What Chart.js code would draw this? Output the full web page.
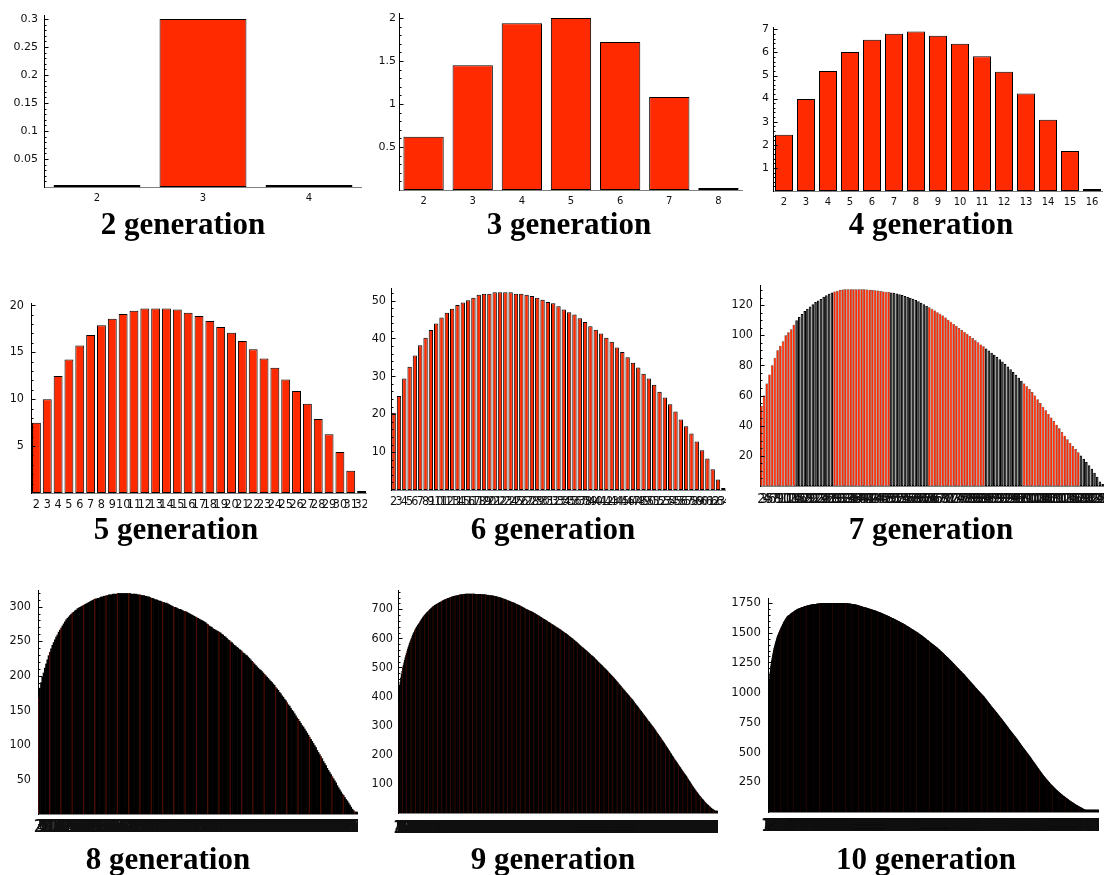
<!DOCTYPE html>
<html><head><meta charset="utf-8"><title>generations</title>
<script src="https://cdn.jsdelivr.net/npm/chart.js@4.4.1/dist/chart.umd.min.js"></script>
<style>
html,body{margin:0;padding:0;background:#fff}
body{position:relative;width:1107px;height:875px;overflow:hidden}
canvas{position:absolute}
.title{position:absolute;font-family:"Liberation Serif","Times New Roman",serif;font-weight:bold;font-size:31px;line-height:32px;white-space:nowrap;transform:translateX(-50%);color:#000}
</style></head><body>
<script>
// ---------- data ----------
const titles = ['2 generation','3 generation','4 generation','5 generation','6 generation','7 generation','8 generation','9 generation','10 generation'];

const gen2Values = [0, 0.3, 0];
const gen3Values = [0.62, 1.45, 1.94, 2.0, 1.72, 1.08, 0];
const gen4Values = [2.43, 3.98, 5.2, 6.02, 6.55, 6.81, 6.9, 6.72, 6.38, 5.83, 5.16, 4.22, 3.09, 1.73, 0];
const gen5Values = [7.48, 9.99, 12.46, 14.23, 15.71, 16.84, 17.86, 18.57, 19.06, 19.41, 19.66, 19.66, 19.66, 19.56, 19.2, 18.85, 18.32, 17.68, 17.08, 16.2, 15.32, 14.33, 13.34, 12.1, 10.87, 9.5, 7.87, 6.25, 4.38, 2.37, 0];
const gen6Values = [20.4, 24.8, 29.4, 32.5, 35.5, 38.2, 40.2, 42.2, 43.9, 45.5, 46.8, 47.8, 48.8, 49.5, 50.1, 50.7, 51.5, 51.8, 51.8, 52.2, 52.2, 52.2, 52.2, 51.8, 51.8, 51.5, 51.2, 50.7, 50.2, 49.6, 49.3, 48.5, 47.6, 46.9, 46.3, 45.3, 44.3, 43.2, 42.3, 41.3, 40.2, 39.1, 37.6, 36.4, 35.0, 33.6, 32.3, 30.7, 29.4, 27.8, 25.9, 24.4, 22.6, 20.7, 18.6, 16.8, 14.9, 12.8, 10.5, 8.3, 5.5, 2.8, 0];
const gen7Values = [
53,60,68,74,80,85,90,93,96,100,102,104,107,110,
112,114,116,117.5,119,120.5,122,123,124,125.5,126.5,127.5,128.3,129,129.5,130,
130.3,130.5,130.5,130.5,130.5,130.5,130.5,130.5,130.5,
130.3,130.1,130,129.8,129.6,129.3,129,128.8,128.6,128.4,
128.2,127.7,127.2,126.6,126,125.4,124.8,124.1,123.3,122.5,
121.6,120.6,119.6,118.5,117.5,116.4,115.3,114.2,113,111.7,
110.3,108.9,107.5,106.2,104.8,103.5,102.2,100.9,99.5,98.1,
96.7,95.3,93.9,92.6,91.2,89.8,88.4,87,85.5,84.1,
82.5,80.9,79.2,77.5,75.6,73.7,71.8,69.8,68,66.2,
64.4,62.3,60,57.6,55,52.6,50.2,47.8,45.5,43.1,
40.7,38.3,35.8,33.4,31,28.6,26.5,24.5,22.4,20.2,
18,15.9,13.8,11.4,8.8,6.2,3,0];
const gen8Values = [
168,182,190,198,204,211,217,223,229,234,239,244,248,252,256,259,263,266,269,272,275,278,281,283,
285,287,289,291,292, 294,295,297,298,299, 300,301,302,303,304, 305,306,307,308,309,310,
311,311,312,312,313, 314,314,315,315,316, 316,317,317,317,318,318,
318,318,319,319,319,319,319,319,319,319, 319,319,319,318,318,318,
318,318,317,317,317, 316,316,316,315,315, 314,314,313,312,312,311,
310,310,309,308,308, 307,306,306,305,305, 304,303,302,301,300, 299,299,298,297,296,296,
295,294,293,293,292, 291,290,289,288,287, 286,285,284,283,282,281,
280,279,278,277,275, 274,272,271,270,268, 267,266,265,264,263,262,
260,259,257,256,254, 252,251,249,248,246, 244,243,241,240,238,237,
235,233,232,230,229, 227,225,223,221,219, 217,215,213,211,209, 208,206,204,202,200,198,
196,194,192,190,188, 186,183,181,179,176, 174,171,169,166,164,161,
158,156,153,150,148, 145,142,139,137,134, 131,128,126,123,120,117,
114,111,108,105,102, 99,96,92,89,86, 83,80,76,73,70, 66,63,60,57,54,51,
48,45,41,38,35, 32,29,27,24,21, 19,16,13,10,7, 5,3,1,0];
const gen9Values = [
378,410,435,450,464,476,487,497,506,516,525,533,541,549,556,563,570,577,583,
589,595,600,606,611,616,621,626,630,634,
638,641,645,648,651,654,658,661,665,668,671,
674,677,679,682,684,687,689,691,693,696,698,700,702,704,706,708,
710,711,713,714,715,717,718,719,720,722,723,
724,725,726,728,729,730,731,732,733,734,
735,736,737,737,738,739,740,741,742,742,743,
744,744,745,745,746,746,747,747,748,748,749,
749,749,750,750,750,751,751,751,752,752,
752,752,752,752,752,752,752,752,752,752,752,
752,752,752,751,751,751,751,751,751,751,751,
751,751,750,750,750,750,750,749,749,749,
749,748,748,748,747,747,747,747,746,746,746,
745,745,744,744,743,743,742,742,741,741,740,
739,738,738,737,736,735,735,734,733,732,
731,730,729,729,728,727,726,725,724,724,723,
722,721,720,719,718,717,716,715,714,713,712,
711,710,708,707,706,705,704,703,701,700,
699,698,697,696,695,694,693,692,691,690,689,
688,686,685,684,682,681,680,678,677,676,675,
673,672,670,669,668,666,665,664,662,661,
660,658,657,655,654,653,651,650,648,647,646,
644,643,642,640,639,637,636,635,633,632,631,
629,628,626,624,623,621,620,618,617,616,
614,612,611,609,607,605,604,602,600,599,597,
595,593,591,589,588,586,584,582,580,578,
576,574,572,570,568,567,565,563,561,559,558,
556,554,552,550,548,546,544,542,540,539,537,
535,533,530,528,526,524,521,519,517,515,
513,511,509,507,505,502,500,498,496,494,492,
490,487,485,483,480,478,476,473,471,469,467,
464,462,459,457,454,452,449,447,444,441,
439,436,434,431,429,426,424,421,419,416,414,
411,409,406,404,401,398,396,393,391,389,386,
383,380,377,374,371,369,366,363,360,357,
354,351,349,346,343,340,337,335,332,329,326,
323,320,317,315,312,309,306,303,300,298,295,
292,289,286,283,279,276,273,270,267,264,
261,258,255,251,248,245,242,239,235,232,229,
226,222,219,215,212,209,205,202,198,195,
192,189,185,182,179,176,173,169,166,163,160,
157,154,150,147,144,141,138,135,132,129,126,
123,119,116,112,109,106,102,99,96,92,
89,86,83,80,77,74,71,68,65,62,59,
57,54,52,49,47,44,42,39,37,34,32,
30,28,26,24,22,20,18,16,14,13,
12,10,9,7,6,4,2,0];
const gen10Values = [
963,1005,1045,1080,1110,1140,1168,1195,1218,1235,1252,1268,1284,1298,1312,1326,1340,1354,1368,
1378,1388,1398,1408,1417,1427,1436,1446,1455,1465,
1471,1478,1484,1491,1497,1503,1510,1516,1522,1529,1535,
1541,1546,1552,1557,1563,1569,1574,1580,1585,1591,
1595,1599,1604,1608,1612,1616,1620,1625,1629,1633,
1635,1637,1639,1641,1643,1645,1647,1649,1651,1654,1656,1658,1660,1662,1664,1666,
1668,1670,1672,1673,1675,1677,1679,1681,1683,1685,1686,1688,1690,1692,1694,
1695,1696,1697,1698,1699,1700,1701,1702,1703,1704,1705,1706,1707,1708,1709,1710,1711,1712,1713,1715,1716,
1717,1717,1718,1719,1720,1720,1721,1722,1723,1723,1724,1725,1725,1726,1727,1727,1728,1729,1729,1730,
1730,1731,1731,1732,1732,1733,1733,1734,1734,1734,1735,1735,1736,1736,1737,1737,1737,1738,1738,1739,1739,
1739,1740,1740,1740,1741,1741,1741,1741,1742,1742,1742,1742,1743,1743,1743,1743,1744,1744,1744,1744,
1744,1744,1744,1744,1744,1744,1744,1744,1744,1744,1744,1744,1744,1744,1744,1744,
1745,1745,1745,1745,1745,1745,1745,1745,1745,1745,1745,1745,1745,1745,1745,1745,1745,1745,1745,1745,1745,1745,1745,1745,1745,1745,1745,1745,1745,1745,
1744,1744,1744,1744,1744,1744,1744,1744,1744,1744,1744,1744,1744,1744,1744,1744,
1744,1744,1744,1743,1743,1743,1743,1742,1742,1742,1742,1741,1741,1741,1740,1740,1740,1740,1739,1739,1739,
1738,1738,1737,1737,1736,1736,1735,1735,1734,1734,1733,1733,1732,1732,1731,1731,1730,1729,1729,1728,
1727,1726,1726,1725,1724,1723,1722,1721,1721,1720,1719,1718,1717,1716,1716,1715,1714,1713,1712,1712,1711,
1710,1709,1709,1708,1707,1706,1705,1704,1704,1703,1702,1701,1700,1699,1699,1698,1697,1696,1695,1695,1694,
1693,1692,1691,1690,1689,1688,1687,1686,1685,1684,1684,1683,1682,1681,1680,1679,1678,1677,1676,1675,
1674,1673,1672,1670,1669,1668,1667,1666,1665,1664,1663,1662,1661,1659,1658,1657,1656,1655,1654,1653,1652,
1651,1649,1648,1647,1646,1644,1643,1642,1641,1640,1638,1637,1636,1635,1633,1632,1631,1630,1628,1627,
1626,1624,1623,1622,1620,1619,1618,1616,1615,1614,1612,1611,1610,1608,1607,1606,1604,1603,1602,1600,1599,
1598,1596,1595,1593,1592,1590,1589,1587,1586,1585,1583,1582,1580,1579,1577,1576,1575,1573,1572,1570,1569,
1567,1565,1564,1562,1560,1559,1557,1555,1554,1552,1550,1548,1547,1545,1543,1542,1540,1538,1537,1535,
1533,1532,1530,1528,1526,1525,1523,1521,1520,1518,1516,1514,1513,1511,1509,1508,1506,1504,1502,1501,1499,
1497,1495,1493,1491,1489,1487,1485,1483,1481,1479,1478,1476,1474,1472,1470,1468,1466,1464,1462,1460,
1458,1456,1454,1451,1449,1447,1445,1443,1441,1438,1436,1434,1432,1430,1428,1426,1423,1421,1419,1417,1415,
1413,1411,1409,1406,1404,1402,1400,1398,1396,1393,1391,1389,1387,1385,1383,1381,1378,1376,1374,1372,1370,
1368,1365,1363,1360,1358,1355,1353,1350,1348,1345,1343,1340,1338,1335,1333,1330,1328,1325,1323,1320,
1317,1315,1312,1310,1307,1304,1302,1299,1296,1294,1291,1289,1286,1283,1281,1278,1275,1273,1270,1268,1265,
1262,1259,1256,1254,1251,1248,1245,1242,1239,1236,1234,1231,1228,1225,1222,1219,1216,1214,1211,1208,
1205,1202,1200,1197,1194,1191,1188,1186,1183,1180,1177,1175,1172,1169,1166,1164,1161,1158,1155,1153,1150,
1147,1144,1141,1138,1135,1131,1128,1125,1122,1119,1116,1113,1110,1107,1104,1100,1097,1094,1091,1088,
1085,1082,1079,1076,1073,1070,1067,1064,1061,1058,1055,1052,1048,1045,1042,1039,1036,1033,1030,1027,1024,
1021,1018,1015,1012,1009,1006,1003,1001,998,995,992,989,986,983,980,977,975,972,969,966,963,
960,956,953,949,946,942,939,935,932,928,925,921,918,914,911,907,904,900,897,893,
890,886,883,880,876,873,870,866,863,860,856,853,850,846,843,840,836,833,830,826,823,
820,816,813,809,806,802,799,795,792,788,785,781,778,775,771,768,764,761,757,754,
750,747,743,739,736,732,728,725,721,718,714,710,707,703,699,696,692,689,685,681,678,
675,671,668,664,661,657,654,651,647,644,640,637,633,630,627,623,620,616,613,609,606,
602,598,594,591,587,583,579,575,571,568,564,560,556,552,549,545,541,537,533,530,
526,523,519,516,512,509,505,501,498,494,491,487,484,480,476,473,469,466,462,459,455,
451,447,443,439,435,432,428,424,420,416,412,408,404,400,396,393,389,385,381,377,
373,369,366,362,358,355,351,347,344,340,336,332,329,325,321,318,314,310,306,303,299,
296,293,289,286,283,280,277,274,270,267,264,261,258,254,251,248,245,242,238,235,232,
229,227,224,221,218,216,213,210,208,205,202,200,197,194,191,189,186,183,181,178,
176,173,171,169,166,164,162,160,157,155,153,150,148,146,143,141,139,137,134,132,130,
128,126,124,122,120,118,116,114,112,110,108,106,104,102,100,98,96,94,92,90,88,
86,84,83,81,79,77,76,74,72,70,69,67,65,63,62,60,58,56,55,53,
52,50,49,47,46,44,43,41,40,38,37,35,34,32,31,29,28,26,25,23,22,
21,20,19,18,17,16,15,14,13,12,11,10,9,8,7,6,5,4,3,3,
2,2,2,2,1,1,1,1,1,1,1,1,1,1,1,0,0,0,0,0,0,
0,0,0,0,0];

const seriesValues = [gen2Values, gen3Values, gen4Values, gen5Values, gen6Values, gen7Values, gen8Values, gen9Values, gen10Values];
// category labels: 2 .. 2^n
const categoryLabels = seriesValues.map(vals => vals.map((_, i) => String(i + 2)));

// ---------- layout / style (not data) ----------
const RED = '#ff2a00';
const SANS = '"DejaVu Sans", Verdana, sans-serif';
const NARROW = '"Liberation Sans Narrow", "DejaVu Sans Condensed", "Liberation Sans", sans-serif';
const layout = [
  {axisX:44,  top:15,  right:362,  base:187, yMax:0.307, step:0.05, div:5, yFam:SANS, ySize:11, yPad:6, xFam:SANS, xSize:10, xPad:5, tx:183, tb:234, mode:'red'},
  {axisX:399, top:13,  right:743,  base:190, yMax:2.058, step:0.5,  div:5, yFam:SANS, ySize:11, yPad:3, xFam:SANS, xSize:10, xPad:5, tx:569, tb:234, mode:'red'},
  {axisX:773, top:27,  right:1103, base:191, yMax:7.1,   step:1,    div:5, yFam:SANS, ySize:11, yPad:4, xFam:SANS, xSize:10, xPad:5, tx:931, tb:234, mode:'red'},
  {axisX:31,  top:303, right:367,  base:493, yMax:20.24, step:5,    div:5, yFam:NARROW, ySize:12.5, yPad:7, xFam:NARROW, xSize:12.5, xPad:4, tx:176, tb:539, mode:'red'},
  {axisX:391, top:288, right:726,  base:490, yMax:53.3,  step:10,   div:5, yFam:NARROW, ySize:12.5, yPad:5, xFam:NARROW, xSize:12.5, xPad:4, tx:553, tb:539, mode:'red'},
  {axisX:760, top:285, right:1104, base:486, yMax:133.3, step:20,   div:4, yFam:NARROW, ySize:12.5, yPad:7, xFam:NARROW, xSize:14, xPad:5, tx:931, tb:539, mode:'band'},
  {axisX:38,  top:590, right:358,  base:814, yMax:324,   step:50,   div:5, yFam:NARROW, ySize:12.5, yPad:7, xFam:NARROW, xSize:17, xPad:3, tx:168, tb:869, mode:'dense', redEvery:9},
  {axisX:398, top:590, right:718,  base:813, yMax:766,   step:100,  div:5, yFam:NARROW, ySize:12.5, yPad:5, xFam:NARROW, xSize:17, xPad:5, tx:553, tb:869, mode:'dense', redEvery:7},
  {axisX:768, top:598, right:1099, base:812, yMax:1789,  step:250,  div:5, yFam:NARROW, ySize:13, yPad:7, xFam:NARROW, xSize:17, xPad:4, tx:926, tb:869, mode:'dense', redEvery:20}
];

// inward major/minor ticks on the value axis (Mathematica style)
const axisTicks = {
  id: 'axisTicks',
  afterDatasetsDraw(chart, args, opts) {
    const y = chart.scales.y, ctx = chart.ctx;
    const x0 = Math.round(chart.chartArea.left) + 0.5;
    const minor = opts.step / opts.div;
    ctx.save();
    ctx.strokeStyle = '#000'; ctx.lineWidth = 1;
    ctx.beginPath();
    for (let i = 1; i * minor <= y.max + 1e-9; i++) {
      const py = Math.round(y.getPixelForValue(i * minor)) + 0.5;
      const len = (i % opts.div === 0) ? 4 : 2;
      ctx.moveTo(x0, py); ctx.lineTo(x0 + len, py);
    }
    ctx.stroke();
    ctx.restore();
  }
};

function bandIsBlack(i) { const k = i + 2; return (((k - 15) % 35) + 35) % 35 < 14; }

layout.forEach((p, idx) => {
  const values = seriesValues[idx];
  const padTop = 9;
  const cl = Math.max(0, p.axisX - 46);
  const wy = p.axisX - cl;
  const ct = p.top - padTop;
  const hx = p.xPad + Math.ceil(p.xSize) + 8;
  const W = p.right - cl;
  const H = p.base - ct + hx;
  const cv = document.createElement('canvas');
  cv.width = W; cv.height = H;
  cv.style.left = cl + 'px'; cv.style.top = ct + 'px';
  cv.style.width = W + 'px'; cv.style.height = H + 'px';
  document.body.appendChild(cv);

  let ds;
  if (p.mode === 'red') {
    ds = {backgroundColor: RED, borderColor: '#000', borderWidth: 1, barPercentage: 0.82};
  } else if (p.mode === 'band') {
    ds = {backgroundColor: c => bandIsBlack(c.dataIndex) ? '#000' : RED,
          borderColor: '#000',
          borderWidth: c => bandIsBlack(c.dataIndex) ? 1 : 0.45,
          barPercentage: 0.95};
  } else {
    ds = {backgroundColor: c => (c.dataIndex % p.redEvery === 0) ? '#4a0c00' : '#000',
          borderColor: '#000', borderWidth: 0, barPercentage: 1};
  }

  new Chart(cv, {
    type: 'bar',
    data: {
      labels: categoryLabels[idx],
      datasets: [Object.assign({data: values, borderSkipped: false, categoryPercentage: 1, minBarLength: 2}, ds)]
    },
    options: {
      responsive: false, animation: false, events: [],
      layout: {padding: {top: padTop, left: 0, right: 0, bottom: 0}},
      plugins: {legend: {display: false}, tooltip: {enabled: false}, title: {display: false},
                axisTicks: {step: p.step, div: p.div}},
      scales: {
        x: {
          offset: true,
          grid: {display: false, drawTicks: false},
          border: {display: true, color: '#808080', width: 1},
          ticks: {autoSkip: false, maxRotation: 0, minRotation: 0, padding: p.xPad,
                  color: '#111', font: {family: p.xFam, size: p.xSize}},
          afterFit: s => { s.height = hx; s.paddingLeft = 0; s.paddingRight = 0; }
        },
        y: {
          min: 0, max: p.yMax,
          grid: {display: false, drawTicks: false},
          border: {display: true, color: '#000', width: 1},
          ticks: {autoSkip: false, padding: p.yPad,
                  color: '#111', font: {family: p.yFam, size: p.ySize},
                  callback: v => (Math.abs(v) < 1e-9 ? '' : String(+Number(v).toFixed(4)))},
          afterBuildTicks: s => {
            const t = [];
            for (let i = 0; i * p.step <= p.yMax + 1e-9; i++) t.push({value: +(i * p.step).toFixed(6)});
            s.ticks = t;
          },
          afterFit: s => { s.width = wy; s.paddingTop = 0; s.paddingBottom = 0; }
        }
      }
    },
    plugins: [axisTicks]
  });

  const t = document.createElement('div');
  t.className = 'title';
  t.textContent = titles[idx];
  t.style.left = p.tx + 'px';
  t.style.top = (p.tb - 26.5) + 'px';
  document.body.appendChild(t);
});
</script>
</body></html>
